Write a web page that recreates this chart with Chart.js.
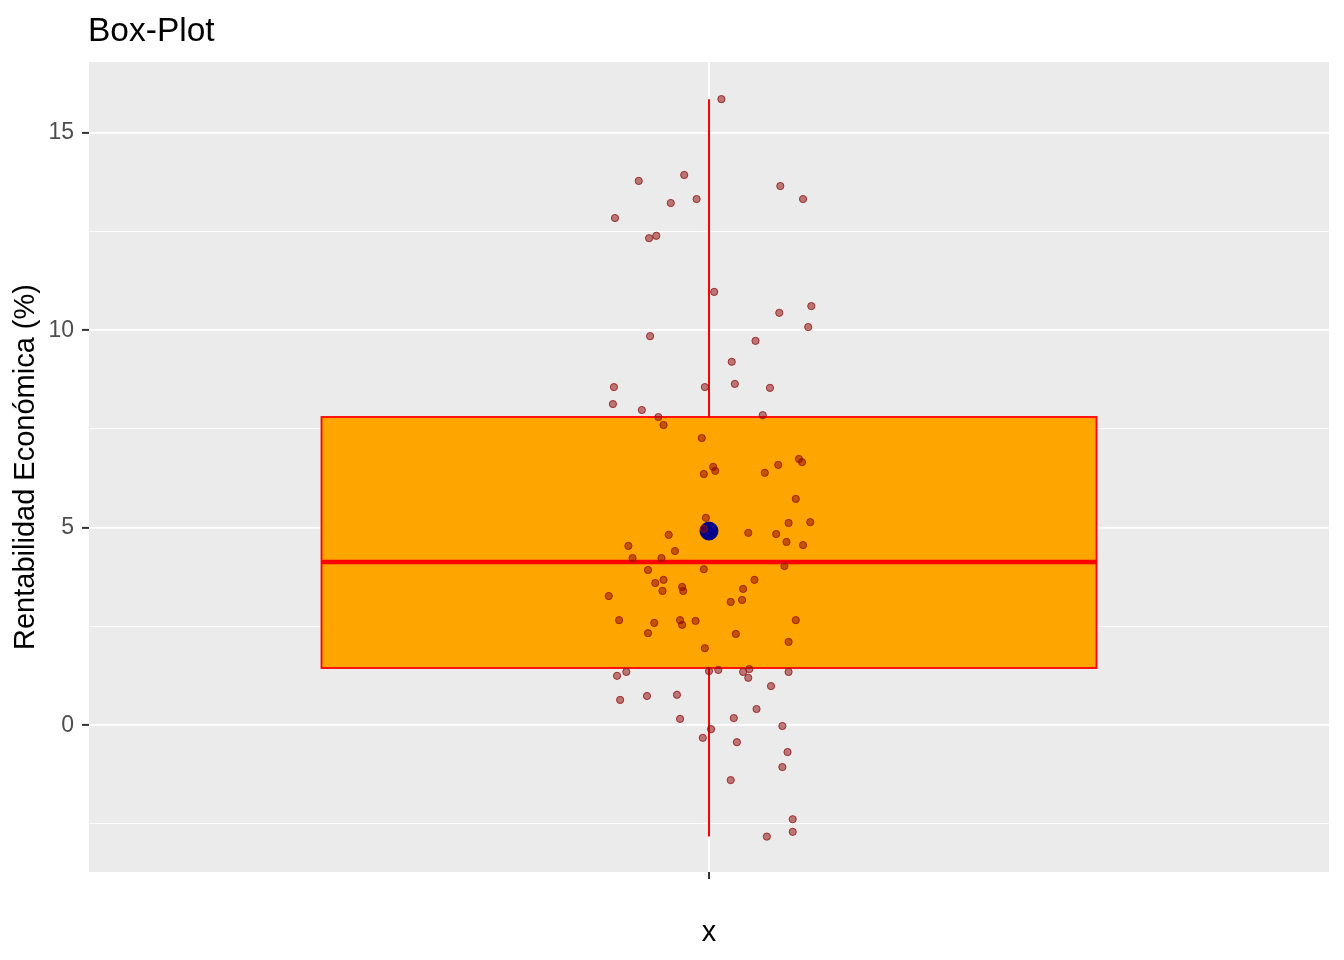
<!DOCTYPE html>
<html><head><meta charset="utf-8">
<script src="https://cdn.jsdelivr.net/npm/chart.js@4.4.1/dist/chart.umd.min.js"></script>
<style>html,body{margin:0;padding:0;background:#fff;}#wrap{width:1344px;height:960px;}</style>
</head><body><div id="wrap"><canvas id="c" width="1344" height="960"></canvas></div>
<script>
const chartTitle = 'Box-Plot';
const xAxisTitle = 'x';
const yAxisTitle = 'Rentabilidad Económica (%)';
const categoryPositions = [1];
const categoryLabels = [''];
const yMajorTicks = [0, 5, 10, 15];
const yMinorTicks = [-2.5, 2.5, 7.5, 12.5];
// box statistics
const boxQ1 = 1.448;
const boxMedian = 4.132;
const boxQ3 = 7.803;
const whiskerLow = -2.82;
const whiskerHigh = 15.85;
const meanValue = 4.916;
// jittered observations
const jitterX = [1.012,0.932,0.976,0.963,0.988,0.909,0.942,0.949,1.069,1.091,
1.005,1.099,1.068,1.096,0.943,1.045,1.022,0.908,0.996,1.025,
1.059,0.907,0.935,0.951,1.052,0.956,0.993,1.004,1.006,0.995,
1.067,1.054,1.087,1.090,1.084,0.997,0.995,0.961,1.038,1.077,
1.098,1.065,1.075,1.091,0.922,0.967,0.926,0.954,0.941,0.995,
1.073,0.948,0.956,0.974,0.975,0.955,0.903,1.044,1.033,1.032,
1.021,0.913,0.947,0.972,0.974,0.987,1.084,0.941,1.026,1.077,
0.996,0.920,0.911,1.000,1.009,1.033,1.039,1.038,1.077,1.060,
0.940,0.969,0.914,1.046,0.972,1.024,1.071,1.002,0.994,1.027,
1.076,1.071,1.021,1.081,1.081,1.056];
const jitterY = [15.85,13.78,13.93,13.22,13.32,12.84,12.33,12.39,13.65,13.32,
10.97,10.61,10.44,10.08,9.85,9.73,9.20,8.56,8.56,8.64,
8.54,8.13,7.98,7.80,7.85,7.60,7.27,6.54,6.44,6.36,
6.59,6.39,6.74,6.66,5.73,5.25,4.97,4.82,4.87,5.12,
5.14,4.84,4.64,4.56,4.54,4.41,4.23,4.23,3.93,3.95,
4.03,3.60,3.68,3.50,3.40,3.40,3.27,3.68,3.45,3.17,
3.12,2.66,2.59,2.66,2.54,2.64,2.66,2.33,2.31,2.11,
1.95,1.35,1.25,1.37,1.40,1.35,1.42,1.20,1.35,0.99,
0.74,0.77,0.64,0.41,0.16,0.18,-0.02,-0.10,-0.32,-0.43,
-0.68,-1.06,-1.39,-2.38,-2.70,-2.82];

const FONT = "'Liberation Sans', Arial, sans-serif";
const boxWidth = 0.75;

const panelPlugin = {
  id: 'panel',
  beforeDraw(chart) {
    const {ctx, chartArea: a} = chart;
    ctx.save();
    ctx.fillStyle = '#EBEBEB';
    ctx.fillRect(a.left, a.top, a.right - a.left, a.bottom - a.top);
    ctx.restore();
  },
  beforeDatasetsDraw(chart) {
    const {ctx, scales: {x, y}} = chart;
    const c = categoryPositions[0];
    const xl = x.getPixelForValue(c - boxWidth / 2);
    const xr = x.getPixelForValue(c + boxWidth / 2);
    const xc = x.getPixelForValue(c);
    ctx.save();
    ctx.strokeStyle = '#FF0000';
    ctx.lineWidth = 2;
    ctx.beginPath();
    ctx.moveTo(xc, y.getPixelForValue(boxQ3));
    ctx.lineTo(xc, y.getPixelForValue(whiskerHigh));
    ctx.moveTo(xc, y.getPixelForValue(boxQ1));
    ctx.lineTo(xc, y.getPixelForValue(whiskerLow));
    ctx.stroke();
    const yt = y.getPixelForValue(boxQ3), yb = y.getPixelForValue(boxQ1);
    ctx.fillStyle = '#FFA500';
    ctx.fillRect(xl, yt, xr - xl, yb - yt);
    ctx.lineWidth = 1.8;
    ctx.strokeRect(xl, yt, xr - xl, yb - yt);
    ctx.lineWidth = 4.5;
    ctx.beginPath();
    const ym = y.getPixelForValue(boxMedian);
    ctx.moveTo(xl, ym); ctx.lineTo(xr, ym);
    ctx.stroke();
    ctx.restore();
  },
  afterDraw(chart) {
    const {ctx} = chart;
    ctx.save();
    ctx.fillStyle = '#000';
    ctx.font = '33.5px ' + FONT;
    ctx.textBaseline = 'alphabetic';
    ctx.textAlign = 'left';
    ctx.fillText(chartTitle, 88, 41);
    ctx.restore();
  }
};

new Chart(document.getElementById('c'), {
  type: 'scatter',
  data: {
    datasets: [
      {
        label: 'obs',
        data: jitterX.map((v, i) => ({x: v, y: jitterY[i]})),
        pointRadius: 3.6,
        pointHoverRadius: 3.6,
        backgroundColor: 'rgba(139,0,0,0.5)',
        borderColor: 'rgba(150,25,25,0.85)',
        borderWidth: 1
      },
      {
        label: 'mean',
        data: [{x: categoryPositions[0], y: meanValue}],
        pointRadius: 9,
        pointHoverRadius: 9,
        backgroundColor: '#00008B',
        borderColor: '#00008B',
        borderWidth: 1
      }
    ]
  },
  options: {
    responsive: false,
    animation: false,
    devicePixelRatio: 1,
    layout: {padding: {left: 0, right: 15, top: 62, bottom: 0}},
    plugins: {legend: {display: false}, tooltip: {enabled: false}, title: {display: false}},
    scales: {
      x: {
        type: 'linear', min: 0.4, max: 1.6,
        afterBuildTicks: s => { s.ticks = categoryPositions.map(v => ({value: v})); },
        afterFit: s => { s.height = 88; },
        ticks: {callback: (v, i) => categoryLabels[i] || '', font: {family: FONT, size: 23}, color: '#4D4D4D', padding: 4, maxRotation: 0},
        grid: {color: '#FFFFFF', lineWidth: 2, tickColor: '#333333', tickLength: 7, tickWidth: 2},
        border: {display: false},
        title: {display: true, text: xAxisTitle, color: '#000', font: {family: FONT, size: 29}, padding: {top: 0, bottom: 10}}
      },
      y: {
        type: 'linear', min: -3.716, max: 16.79,
        afterBuildTicks: s => { s.ticks = yMinorTicks.concat(yMajorTicks).sort((a, b) => a - b).map(v => ({value: v})); },
        afterFit: s => { s.width = 89; },
        ticks: {autoSkip: false, callback: v => yMajorTicks.includes(v) ? String(v) : '', font: {family: FONT, size: 23}, color: '#4D4D4D', padding: 8},
        grid: {
          color: '#FFFFFF',
          lineWidth: c => (c.tick && yMajorTicks.includes(c.tick.value)) ? 1.8 : 0.9,
          tickColor: c => (c.tick && yMajorTicks.includes(c.tick.value)) ? '#333333' : 'rgba(0,0,0,0)',
          tickLength: 7, tickWidth: 2
        },
        border: {display: false},
        title: {display: true, text: yAxisTitle, color: '#000', font: {family: FONT, size: 29}, padding: {top: 9, bottom: 0}}
      }
    }
  },
  plugins: [panelPlugin]
});
</script></body></html>
